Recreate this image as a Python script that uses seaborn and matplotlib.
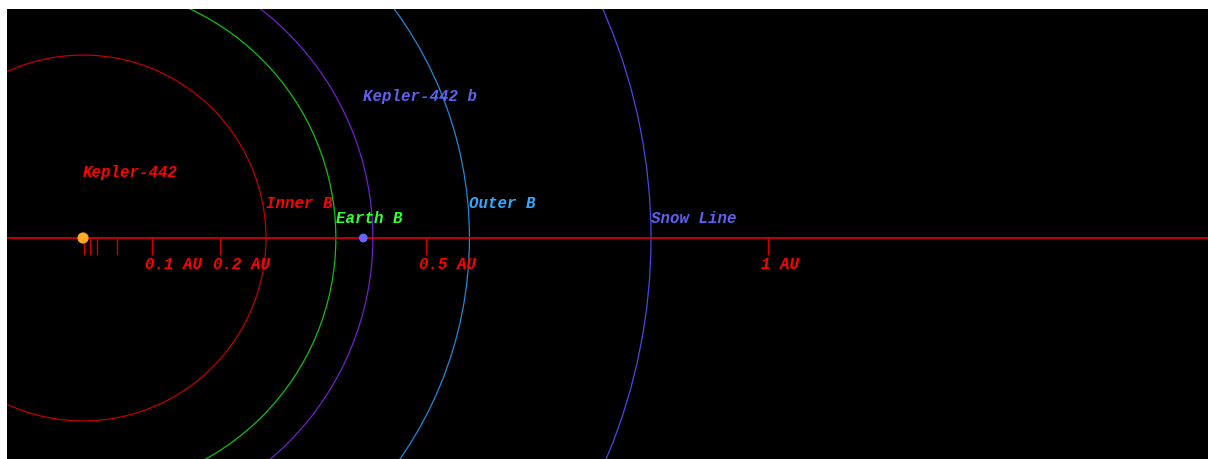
import numpy as np
import matplotlib
matplotlib.use("Agg")
import matplotlib.pyplot as plt
import seaborn as sns
from matplotlib.patches import Circle

# Data (AU)
star_name = "Kepler-442"
planet_name = "Kepler-442 b"
planet_a = 0.409

zone_labels = ["Inner B", "Earth B", "Outer B", "Snow Line"]
zone_radii = [0.267, 0.369, 0.564, 0.829]
zone_colors = ["#c00000", "#10c010", "#2088d8", "#4848e8"]
zone_text_colors = ["#ff0000", "#33ff33", "#33aaff", "#6060f0"]
zone_label_y = [0.051, 0.029, 0.051, 0.029]

orbit_radius = 0.423
orbit_color = "#7020c8"

tick_pos = [0.001, 0.01, 0.02, 0.05, 0.1, 0.2, 0.5, 1.0]
tick_labels = ["", "", "", "", "0.1 AU", "0.2 AU", "0.5 AU", "1 AU"]

sns.set_style("dark")
font = ["Liberation Mono", "DejaVu Sans Mono"]

fig = plt.figure(figsize=(12.08, 4.59), dpi=100)
fig.patch.set_facecolor("white")
ax = fig.add_axes([7 / 1208, 0, 1 - 7 / 1208, (459 - 8.7) / 459])
ax.set_facecolor("black")
ax.set_xlim(-0.111, 1.642)
ax.set_ylim(-0.3226, 0.3347)
ax.set_axis_off()
ax.add_patch(plt.Rectangle((-0.2, -0.5), 2.0, 1.0, color="black", zorder=0))

# zone circles and planet orbit
for r, c in zip(zone_radii, zone_colors):
    ax.add_patch(Circle((0, 0), r, fill=False, edgecolor=c, lw=0.9, zorder=2))
ax.add_patch(Circle((0, 0), orbit_radius, fill=False, edgecolor=orbit_color, lw=0.9, zorder=2))

# distance axis
ax.axhline(0, color="#e00000", lw=1.2, zorder=3)
for t in tick_pos:
    ax.plot([t, t], [0, -0.0234], color="#d00000", lw=1.0, zorder=3)
for t, lab in zip(tick_pos, tick_labels):
    if lab:
        ax.text(t - 0.0102, -0.0394, lab, color="#ff0000", fontsize=11.3,
                family=font, weight="bold", style="italic", va="center", ha="left")

# star and planet
sns.scatterplot(x=[0.0], y=[0.0], s=65, color="#ffaa22", edgecolor="none", ax=ax, zorder=5)
sns.scatterplot(x=[planet_a], y=[0.0], s=40, color="#6666ff", edgecolor="none", ax=ax, zorder=5)

# labels
ax.text(0.0, 0.096, star_name, color="#ff0000", fontsize=11.3, family=font,
        weight="bold", style="italic", va="center", ha="left")
ax.text(planet_a - 0.001, 0.206, planet_name, color="#6060f0", fontsize=11.3, family=font,
        weight="bold", style="italic", va="center", ha="left")
for lab, r, c, y in zip(zone_labels, zone_radii, zone_text_colors, zone_label_y):
    ax.text(r, y, lab, color=c, fontsize=11.3, family=font,
            weight="bold", style="italic", va="center", ha="left")

fig.savefig("out.png", dpi=100, facecolor="white")
